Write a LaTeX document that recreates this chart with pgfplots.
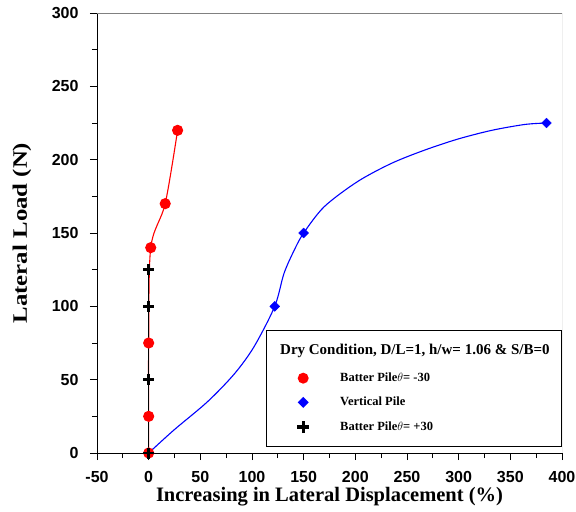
\documentclass[border=0pt]{standalone}
\usepackage{fontspec}
\setmainfont{Liberation Serif}
\newfontfamily\arial{Liberation Sans}
\usepackage{pgfplots}
\pgfplotsset{compat=1.18}
\begin{document}
\begin{tikzpicture}
\begin{axis}[
  scale only axis, width=465bp, height=440bp,
  xmin=-50, xmax=400, ymin=0, ymax=300,
  axis x line=bottom, axis y line=left,
  axis line style={-, line width=0.9bp},
  xtick={-50,0,...,400}, ytick={0,50,...,300},
  minor x tick num=1, minor y tick num=1,
  tick align=outside,
  major tick length=7bp, minor tick length=5bp,
  tick style={black, line width=0.8bp},
  /pgf/number format/assume math mode=true,
  ticklabel style={font=\arial\bfseries\fontsize{16bp}{18bp}\selectfont},
  xticklabel style={yshift=-8bp},
  yticklabel style={xshift=-8bp},
  xlabel={\bfseries Increasing in Lateral Displacement (\%)},
  ylabel={\scalebox{1.21}[1]{\bfseries Lateral Load (N)}},
  label style={font=\bfseries\fontsize{20.5bp}{22bp}\selectfont},
  xlabel style={at={(rel axis cs:0.5,0)}, anchor=base, yshift=-48bp},
  ylabel style={at={(rel axis cs:0,0.5)}, anchor=center, yshift=75bp},
  legend style={at={(rel axis cs:0.363,0.0136)}, anchor=south west,
    font=\bfseries\fontsize{12.5bp}{14bp}\selectfont,
    draw=black, line width=0.8bp, inner xsep=4bp, inner ysep=12bp,
    row sep=10bp, legend cell align=left},
  legend columns=1,
]
\draw[gray, line width=0.9bp] (rel axis cs:0,1) -- (rel axis cs:1,1) -- (rel axis cs:1,0);
% Vertical pile: line and marks
\addplot[blue, line width=1.1bp, smooth, tension=0.5, forget plot]
 coordinates {(0,0) (24.5,15.7) (57,35) (83,54) (102,72.5) (122,100) (131,122.5) (141,138.5) (150,150)
 (170,168) (202,185) (235,197.5) (267,206.5) (299,214) (332,220) (364,224) (385,225)};
\addplot[blue, only marks, mark=square*, mark size=3.5bp, mark options={rotate=45}, forget plot]
 coordinates {(0,0) (122,100) (150,150) (385,225)};
% Batter pile -30
\addplot[red, line width=1.1bp, smooth, tension=0.5, mark=*, mark size=5bp, forget plot]
 coordinates {(0,0) (0,25) (0,75) (2,140) (16,170) (28,220)};
% Batter pile +30
\addplot[black, line width=1.4bp, mark=+, mark size=5.5bp, mark options={line width=2.6bp}, forget plot]
 coordinates {(0,0) (0,50) (0,100) (0,125)};
\addlegendimage{empty legend}
\addlegendentry{\hspace{-60bp}\raisebox{3bp}{\fontsize{15bp}{17bp}\selectfont Dry Condition, D/L=1, h/w= 1.06 \& S/B=0\hspace*{6bp}}}
\addlegendimage{legend image code/.code={\path[draw=none] (0,0) -- (68bp,0); \fill[red, draw=none] (33bp,0) circle (5.5bp);}}
\addlegendentry{Batter Pile$\theta$= -30}
\addlegendimage{legend image code/.code={\path[draw=none] (0,0) -- (68bp,0); \fill[blue, draw=none] (33bp,0) +(0,5.5bp) -- +(5.5bp,0) -- +(0,-5.5bp) -- +(-5.5bp,0) -- cycle;}}
\addlegendentry{Vertical Pile}
\addlegendimage{legend image code/.code={\path[draw=none] (0,0) -- (68bp,0); \draw[black, line width=3.2bp] (33bp,-6bp) -- (33bp,6bp) (27bp,0) -- (39bp,0);}}
\addlegendentry{Batter Pile$\theta$= +30}
\coordinate (bl) at (rel axis cs:0,0);
\coordinate (tr) at (rel axis cs:1,1);
\end{axis}
\pgfresetboundingbox
\path ([shift={(-97bp,-59bp)}]bl) rectangle ([shift={(14bp,13bp)}]tr);
\end{tikzpicture}
\end{document}
